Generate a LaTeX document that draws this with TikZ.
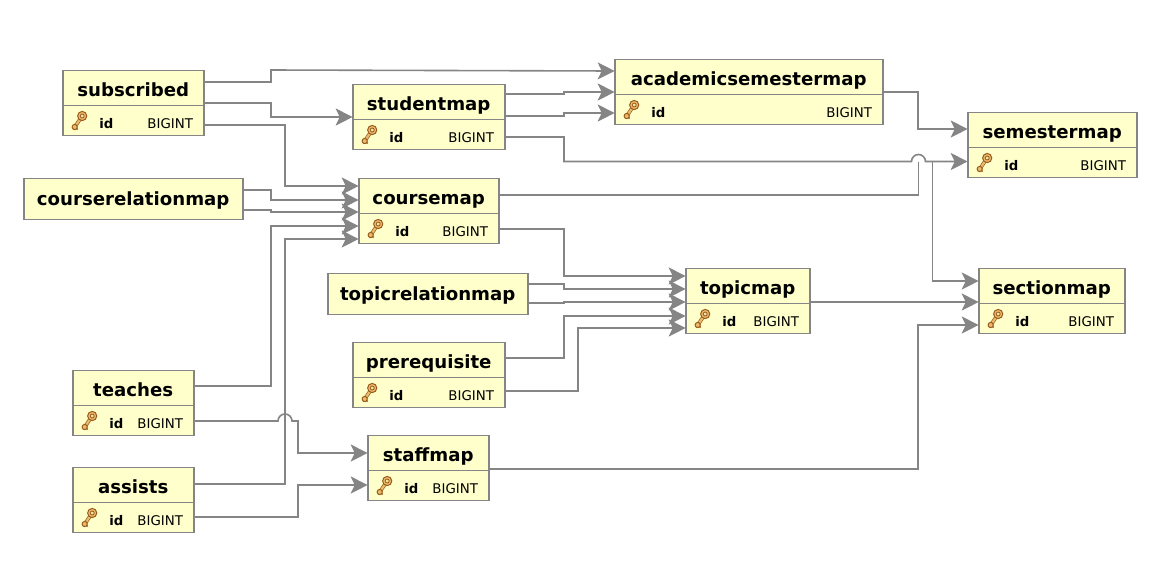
\documentclass[tikz,border=0pt]{standalone}
\usepackage{fontspec}
\setmainfont{DejaVu Sans}
\usepackage{xcolor}
\usetikzlibrary{positioning, arrows.meta, calc}

\definecolor{tablefill}{HTML}{FFFFCC}
\definecolor{wiregray}{HTML}{858585}
\definecolor{keygold}{HTML}{E9BC6A}
\definecolor{keybrown}{HTML}{9A5A1E}
\newcommand{\px}{0.03cm}

% title box only
\newcommand{\titlebox}[5]{%
  \node[tbl, text height=13*\px, minimum width=#5*\px, minimum height=41*\px] (#1) at (#3+0.7,#4+0.5) {#2};
}
% title box with the id row under it
\newcommand{\dbtable}[5]{%
  \node[tbl, text height=17*\px, minimum width=#5*\px, minimum height=35*\px] (#1) at (#3+0.7,#4+0.5) {#2};
  \node[tbl, minimum width=#5*\px, minimum height=30*\px, anchor=north west] (#1row) at (#1.south west) {};
  \pic at ($(#1row.west)+(17.5,0)$) {keyicon};
  \node[idtext] (#1id) at ($(#1row.south west)+(36.5,-7.5)$) {id};
  \node[typetext] (#1type) at ($(#1row.south east)+(-10.5,-7.5)$) {BIGINT};
}

\begin{document}
\begin{tikzpicture}[
    x=\px, y=-\px,
    tbl/.style={rectangle, draw=wiregray, fill=tablefill, line width=1.8*\px, anchor=north west, inner sep=0pt, outer sep=0pt, text depth=0pt, font=\fontsize{15.5pt}{18pt}\bfseries\selectfont},
    idtext/.style={anchor=base west, inner sep=0pt, font=\fontsize{11.3pt}{14pt}\bfseries\selectfont},
    typetext/.style={anchor=base east, inner sep=0pt, font=\fontsize{11.4pt}{14pt}\selectfont},
    wire/.style={draw=wiregray, line width=1.6*\px, -{Stealth[length=17*\px, width=17*\px, inset=4*\px, fill=wiregray]}},
    plain/.style={draw=wiregray, line width=1.6*\px},
    keyicon/.pic={
        \draw[keybrown, line width=3.6*\px, line cap=round] (-5.5,6.5) -- (1,-3);
        \draw[keygold, line width=2.2*\px, line cap=round] (-5.5,6.5) -- (1,-3);
        \fill[keybrown] (-6.5,8) circle (1.2) (-3,8.5) circle (1);
        \draw[keybrown, fill=keygold, line width=1*\px] (-5.5,6.5) circle (2.6);
        \draw[keybrown, fill=keygold, line width=1*\px] (2,-4.5) circle (4.6);
        \draw[keybrown, fill=tablefill!60!keygold, line width=0.8*\px] (2,-4.5) circle (2);
    }
]
\useasboundingbox (0,0) rectangle (1164,576);

% tables
\dbtable{subscribed}{subscribed}{62}{70}{141}
\dbtable{studentmap}{studentmap}{352}{84}{152}
\dbtable{academicsemestermap}{academicsemestermap}{614}{59}{268}
\dbtable{semestermap}{semestermap}{967}{112}{169}
\titlebox{courserelationmap}{courserelationmap}{23}{178}{219}
\dbtable{coursemap}{coursemap}{358}{178}{140}
\titlebox{topicrelationmap}{topicrelationmap}{327}{273}{200}
\dbtable{topicmap}{topicmap}{685}{268}{124}
\dbtable{sectionmap}{sectionmap}{978}{268}{146}
\dbtable{prerequisite}{prerequisite}{352}{342}{152}
\dbtable{teaches}{teaches}{72}{370}{121}
\dbtable{assists}{assists}{72}{467}{121}
\dbtable{staffmap}{staffmap}{367}{435}{121}

% free ends at the two hops
\coordinate (hopcourse) at (918.5,161.5);
\coordinate (branchsection) at (932.5,161.5);

% connectors
\draw[wire] (subscribed.east |- 0,82) -- (271,82) -- (271,70) -- (academicsemestermap.west |- 0,71);
\draw[wire] (subscribed.east |- 0,103) -- (271,103) -- (271,117) -- (studentmap.west |- 0,117);
\draw[wire] (subscribedrow.east |- 0,125) -- (285,125) -- (285,186) -- (coursemap.west |- 0,186);
\draw[wire] (courserelationmap.east |- 0,190) -- (271,190) -- (271,200) -- (coursemap.west |- 0,200);
\draw[wire] (courserelationmap.east |- 0,210) -- (271,210) -- (271,212) -- (coursemap.west |- 0,212);
\draw[wire] (teaches.east |- 0,386) -- (271,386) -- (271,226) -- (coursemaprow.west |- 0,226);
\draw[wire] (assists.east |- 0,484) -- (285,484) -- (285,239) -- (coursemaprow.west |- 0,239);
\draw[wire] (studentmap.east |- 0,94) -- (564,94) -- (564,92) -- (academicsemestermap.west |- 0,92);
\draw[wire] (studentmap.east |- 0,116) -- (564,116) -- (564,113) -- (academicsemestermaprow.west |- 0,113);
\draw[wire] (studentmaprow.east |- 0,137) -- (564,137) -- (564,161.5) -- (911.5,161.5) arc[start angle=180, end angle=360, radius=7] -- (semestermaprow.west |- 0,161.5);
\draw[wire] (academicsemestermap.east |- 0,92) -- (918,92) -- (918,129) -- (semestermap.west |- 0,129);
\draw[plain] (coursemap.east |- 0,195) -- (918.5,195) -- (hopcourse);
\draw[wire] (branchsection) -- (932.5,281) -- (sectionmap.west |- 0,281);
\draw[wire] (coursemaprow.east |- 0,229) -- (564,229) -- (564,276) -- (topicmap.west |- 0,276);
\draw[wire] (topicrelationmap.east |- 0,284) -- (564,284) -- (564,289) -- (topicmap.west |- 0,289);
\draw[wire] (topicrelationmap.east |- 0,303) -- (564,303) -- (564,302) -- (topicmap.west |- 0,302);
\draw[wire] (prerequisite.east |- 0,358) -- (564,358) -- (564,316) -- (topicmaprow.west |- 0,316);
\draw[wire] (prerequisiterow.east |- 0,391) -- (578,391) -- (578,328) -- (topicmaprow.west |- 0,328);
\draw[wire] (topicmaprow.east |- 0,302) -- (sectionmap.west |- 0,302);
\draw[wire] (staffmaprow.east |- 0,469) -- (918,469) -- (918,325) -- (sectionmaprow.west |- 0,325);
\draw[wire] (teachesrow.east |- 0,421) -- (278,421) arc[start angle=180, end angle=360, radius=7] -- (298,421) -- (298,453) -- (staffmap.west |- 0,453);
\draw[wire] (assistsrow.east |- 0,517) -- (298,517) -- (298,485) -- (staffmaprow.west |- 0,485);

\end{tikzpicture}
\end{document}
